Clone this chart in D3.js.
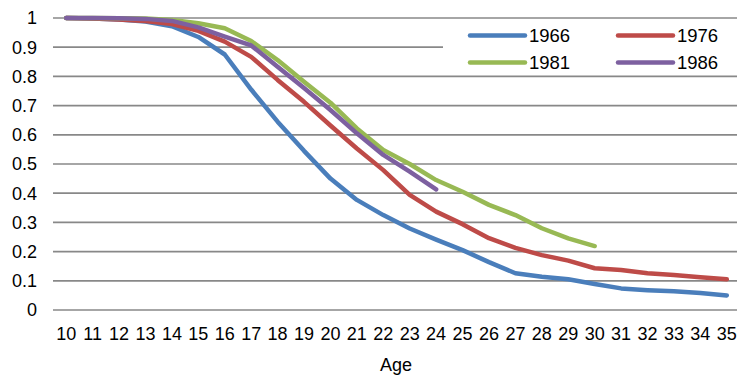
<!DOCTYPE html>
<html><head><meta charset="utf-8">
<script src="https://cdn.jsdelivr.net/npm/d3@7"></script>
<style>body{margin:0;background:#fff}svg{display:block}text{font-family:Arial,"Liberation Sans",sans-serif;fill:#000}</style>
</head><body><div id="chart"></div>
<script>
const ages = [10,11,12,13,14,15,16,17,18,19,20,21,22,23,24,25,26,27,28,29,30,31,32,33,34,35];
const yTicks = [0,0.1,0.2,0.3,0.4,0.5,0.6,0.7,0.8,0.9,1];
const seriesNames = ["1966","1976","1981","1986"];
const colors = ["#4a7ebb","#be4b48","#98b954","#7d60a0"];
const s1966 = [1,0.998,0.995,0.988,0.972,0.935,0.875,0.755,0.645,0.545,0.45,0.377,0.325,0.279,0.241,0.205,0.164,0.126,0.114,0.105,0.089,0.074,0.068,0.064,0.058,0.05];
const s1976 = [1,0.998,0.995,0.99,0.979,0.956,0.919,0.867,0.788,0.713,0.632,0.553,0.479,0.394,0.337,0.294,0.246,0.213,0.188,0.169,0.143,0.137,0.126,0.12,0.112,0.105];
const s1981 = [1,1,0.999,0.998,0.993,0.982,0.965,0.921,0.856,0.782,0.71,0.622,0.548,0.5,0.445,0.405,0.36,0.325,0.28,0.245,0.219];
const s1986 = [1,1,0.999,0.997,0.99,0.968,0.936,0.906,0.833,0.76,0.685,0.605,0.531,0.474,0.413];
const seriesData = [s1966,s1976,s1981,s1986];

const W=737,H=377;
const svg=d3.select("#chart").append("svg").attr("width",W).attr("height",H);
const x=d3.scalePoint().domain(ages).range([53,740]).padding(0.5);
const y=d3.scaleLinear().domain([0,1]).range([310,18]);

// gridlines
svg.append("g").selectAll("line").data(yTicks).join("line")
  .attr("x1",53).attr("x2",737).attr("y1",d=>y(d)).attr("y2",d=>y(d))
  .attr("stroke","#888").attr("stroke-width",1.7);

// y labels
svg.append("g").selectAll("text").data(yTicks).join("text")
  .attr("x",37).attr("y",d=>y(d)).attr("dy","0.36em").attr("text-anchor","end")
  .attr("font-size",18).text(d=>d3.format("")(d));

// x labels
svg.append("g").selectAll("text").data(ages).join("text")
  .attr("x",d=>x(d)).attr("y",339.5).attr("text-anchor","middle")
  .attr("font-size",18).text(d=>d);

svg.append("text").attr("x",396).attr("y",371).attr("text-anchor","middle").attr("font-size",18).text("Age");

// legend background
svg.append("rect").attr("x",443).attr("y",23).attr("width",294).attr("height",50).attr("fill","#fff");

const line=d3.line().x((d,i)=>x(ages[i])).y(d=>y(d));
svg.append("g").selectAll("path").data(seriesData).join("path")
  .attr("d",d=>line(d)).attr("fill","none")
  .attr("stroke",(d,i)=>colors[i]).attr("stroke-width",4.5)
  .attr("stroke-linecap","round").attr("stroke-linejoin","round");

// legend
const leg=svg.append("g");
seriesNames.forEach((n,i)=>{
  const lx = i%2===0 ? 470 : 618;
  const ly = i<2 ? 35.5 : 62.5;
  leg.append("line").attr("x1",lx).attr("x2",lx+55).attr("y1",ly).attr("y2",ly)
    .attr("stroke",colors[i]).attr("stroke-width",4.5).attr("stroke-linecap","round");
  leg.append("text").attr("x",lx+59).attr("y",ly).attr("dy","0.36em").attr("font-size",18.5).text(n);
});
</script></body></html>
